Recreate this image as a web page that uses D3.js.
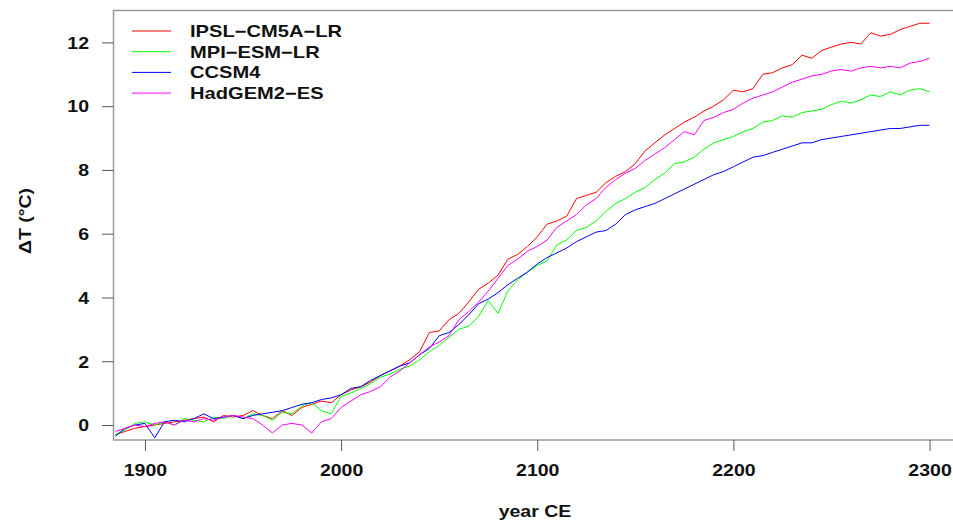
<!DOCTYPE html>
<html>
<head>
<meta charset="utf-8">
<script src="https://cdn.jsdelivr.net/npm/d3@7"></script>
<style>
  body { margin: 0; background: #fff; }
  text { font-family: "Liberation Sans", Arial, sans-serif; font-weight: bold; fill: #111; }
</style>
</head>
<body>
<div class="canvas"></div>
<script>
// years sampled every 5 years
const years = d3.range(1885, 2301, 5)

const models = ['IPSL\u2212CM5A\u2212LR', 'MPI\u2212ESM\u2212LR', 'CCSM4', 'HadGEM2\u2212ES']
const colors = ['#ff0000', '#00ff00', '#0000ff', '#ff00ff']

const ipsl = [
  -0.3, -0.2, -0.1, -0.05, 0.0, 0.05, 0.1, 0.15, 0.2, 0.25,
  0.1, 0.3, 0.25, 0.3, 0.45, 0.3, 0.2, 0.45, 0.3, 0.55,
  0.65, 0.75, 0.7, 0.95, 1.1, 1.2, 1.35, 1.55, 1.7, 1.85,
  2.05, 2.3, 2.9, 2.95, 3.3, 3.5, 3.85, 4.25, 4.45, 4.7,
  5.2, 5.35, 5.6, 5.9, 6.3, 6.4, 6.55, 7.1, 7.2, 7.3,
  7.6, 7.8, 7.95, 8.2, 8.6, 8.85, 9.1, 9.3, 9.5, 9.65,
  9.85, 10.0, 10.2, 10.5, 10.45, 10.55, 11.0, 11.05, 11.2, 11.3,
  11.6, 11.5, 11.75, 11.85, 11.95, 12.0, 11.95, 12.3, 12.2, 12.25,
  12.4, 12.5, 12.6, 12.6
]
const mpi = [
  -0.3, -0.15, 0.05, 0.1, 0.0, 0.1, 0.0, 0.2, 0.15, 0.1,
  0.25, 0.2, 0.3, 0.2, 0.35, 0.3, 0.15, 0.4, 0.35, 0.6,
  0.7, 0.45, 0.35, 0.9, 1.0, 1.15, 1.3, 1.5, 1.6, 1.75,
  1.85, 2.05, 2.3, 2.5, 2.75, 3.0, 3.1, 3.4, 3.9, 3.5,
  4.2, 4.55, 4.8, 5.0, 5.15, 5.65, 5.8, 6.1, 6.2, 6.4,
  6.7, 6.95, 7.1, 7.3, 7.45, 7.7, 7.9, 8.2, 8.25, 8.4,
  8.65, 8.85, 8.95, 9.05, 9.2, 9.3, 9.5, 9.55, 9.7, 9.65,
  9.8, 9.85, 9.9, 10.05, 10.15, 10.1, 10.2, 10.35, 10.3, 10.45,
  10.35, 10.5, 10.55, 10.45
]
const ccsm = [
  -0.35, -0.1, 0.0, 0.05, -0.4, 0.1, 0.15, 0.1, 0.2, 0.35,
  0.2, 0.25, 0.3, 0.2, 0.3, 0.35, 0.4, 0.45, 0.55, 0.65,
  0.7, 0.8, 0.85, 0.95, 1.15, 1.2, 1.4, 1.55, 1.7, 1.85,
  1.95, 2.2, 2.4, 2.8, 2.9, 3.15, 3.45, 3.8, 3.95, 4.15,
  4.4, 4.6, 4.8, 5.05, 5.25, 5.4, 5.55, 5.75, 5.9, 6.05,
  6.1, 6.3, 6.6, 6.75, 6.85, 6.95, 7.1, 7.25, 7.4, 7.55,
  7.7, 7.85, 7.95, 8.1, 8.25, 8.4, 8.45, 8.55, 8.65, 8.75,
  8.85, 8.85, 8.95, 9.0, 9.05, 9.1, 9.15, 9.2, 9.25, 9.3,
  9.3, 9.35, 9.4, 9.4
]
const hadgem = [
  -0.2, -0.1, 0.0, -0.05, 0.05, 0.1, 0.0, 0.15, 0.1, 0.2,
  0.15, 0.25, 0.3, 0.25, 0.2, 0.0, -0.25, 0.0, 0.05, 0.0,
  -0.25, 0.1, 0.2, 0.55, 0.75, 0.95, 1.05, 1.2, 1.5, 1.7,
  1.95, 2.2, 2.45, 2.6, 2.8, 3.3, 3.55, 3.85, 4.2, 4.6,
  5.0, 5.2, 5.45, 5.6, 5.8, 6.2, 6.4, 6.6, 6.9, 7.1,
  7.45, 7.7, 7.9, 8.05, 8.3, 8.5, 8.7, 8.95, 9.2, 9.1,
  9.55, 9.65, 9.8, 9.9, 10.1, 10.25, 10.35, 10.45, 10.6, 10.75,
  10.85, 10.95, 11.0, 11.1, 11.15, 11.1, 11.2, 11.25, 11.2, 11.25,
  11.2, 11.35, 11.4, 11.5
]

const xTicks = [1900, 2000, 2100, 2200, 2300]
const yTicks = [0, 2, 4, 6, 8, 10, 12]

const series = [ipsl, mpi, ccsm, hadgem]

const width = 953, height = 521
const plot = { left: 113.5, top: 10.5, right: 955, bottom: 440 }
const stretch = 1.22   // text in the original is wider than tall

const svg = d3.select('.canvas')
    .append('svg')
    .attr('width', width)
    .attr('height', height)

const xScale = d3.scaleLinear().domain([1884, 2312]).range([113.56, 953.1])
const yScale = d3.scaleLinear().domain([-0.47, 13.0]).range([440, 10.5])

svg.append('clipPath').attr('id', 'clip')
    .append('rect')
    .attr('x', plot.left).attr('y', plot.top)
    .attr('width', plot.right - plot.left).attr('height', plot.bottom - plot.top)

// lines
const lineGenerator = d3.line()
    .x((d, i) => xScale(years[i]))
    .y(d => yScale(d))

const linesG = svg.append('g').attr('clip-path', 'url(#clip)')
series.forEach((s, i) => {
    linesG.append('path')
        .datum(s)
        .attr('fill', 'none')
        .attr('stroke', colors[i])
        .attr('stroke-width', 1)
        .attr('stroke-linejoin', 'round')
        .attr('d', lineGenerator)
})

// frame (left, top, bottom)
svg.append('path')
    .attr('d', `M${plot.right},${plot.top}H${plot.left}V${plot.bottom}H${plot.right}`)
    .attr('fill', 'none')
    .attr('stroke', '#9a9a9a')
    .attr('stroke-width', 1.5)

// axes
const yAxis = d3.axisLeft(yScale).tickValues(yTicks).tickSize(11.5).tickFormat(d3.format('d'))
const yAxisGroup = svg.append('g')
    .attr('transform', `translate(${plot.left}, 0)`)
    .call(yAxis)
yAxisGroup.select('.domain').remove()
yAxisGroup.selectAll('line').attr('stroke', '#555')
yAxisGroup.selectAll('text')
    .attr('x', 0)
    .attr('dy', '0.36em')
    .attr('transform', `translate(-24.5, 0) scale(${stretch}, 1)`)
    .style('font-size', '16px')

const xAxis = d3.axisBottom(xScale).tickValues(xTicks).tickSize(11).tickFormat(d3.format('d'))
const xAxisGroup = svg.append('g')
    .attr('transform', `translate(0, ${plot.bottom})`)
    .call(xAxis)
xAxisGroup.select('.domain').remove()
xAxisGroup.selectAll('line').attr('stroke', '#555')
xAxisGroup.selectAll('text')
    .attr('y', 36)
    .attr('dy', 0)
    .attr('transform', `scale(${stretch}, 1)`)
    .style('font-size', '16px')

// axis titles
svg.append('text')
    .attr('transform', `translate(535, 517) scale(${stretch}, 1)`)
    .attr('text-anchor', 'middle')
    .style('font-size', '16px')
    .text('year CE')

svg.append('text')
    .attr('transform', `translate(31, 221) rotate(-90) scale(${stretch}, 1)`)
    .attr('text-anchor', 'middle')
    .style('font-size', '16px')
    .text('\u0394T (\u00b0C)')

// legend
const legend = svg.append('g')
models.forEach((m, i) => {
    const ly = 31 + i * 20.7
    legend.append('line')
        .attr('x1', 132).attr('x2', 171)
        .attr('y1', ly).attr('y2', ly)
        .attr('stroke', colors[i])
        .attr('stroke-width', 1)
    legend.append('text')
        .attr('transform', `translate(190, ${ly + 5.8}) scale(${stretch}, 1)`)
        .style('font-size', '16.5px')
        .text(m)
})
</script>
</body>
</html>
